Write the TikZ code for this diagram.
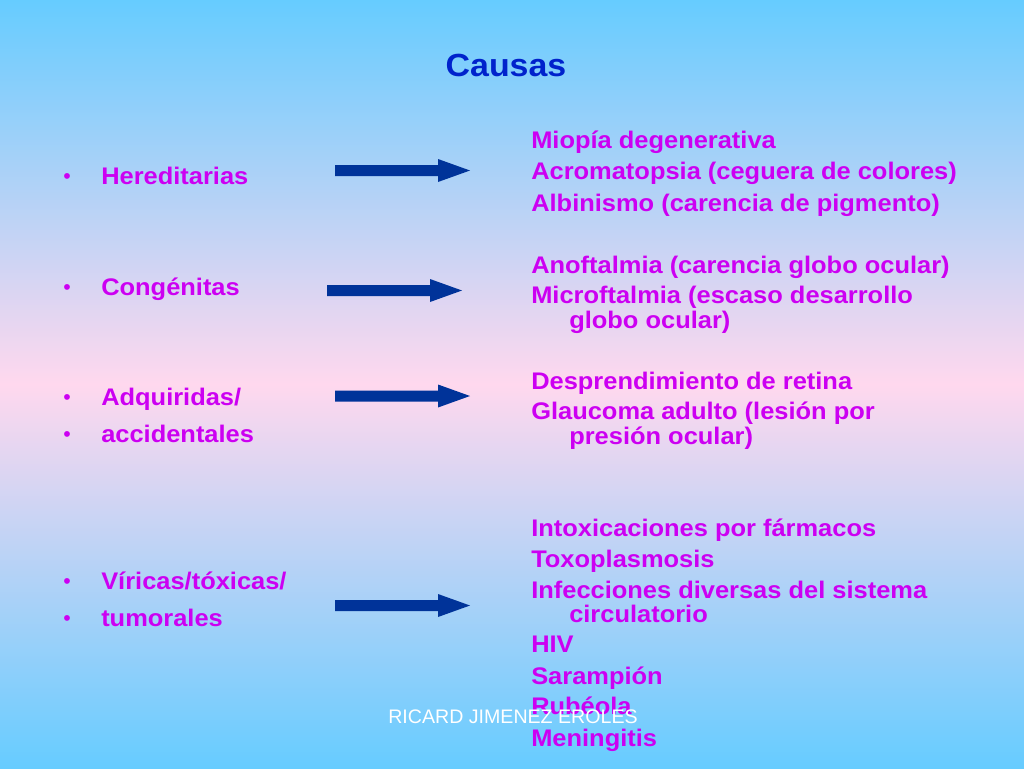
\documentclass[tikz,border=0pt]{standalone}
\usepackage{fontspec}
\setmainfont{Liberation Sans}
\newfontfamily\widebold[FakeStretch=1.06]{Liberation Sans Bold}
\definecolor{bgcyan}{HTML}{66CCFF}
\definecolor{bgpink}{HTML}{FFD8EE}
\definecolor{txtmag}{HTML}{CC00F2}
\definecolor{titblue}{HTML}{0022CC}
\definecolor{arrblue}{HTML}{003399}
\tikzset{
  item/.style={anchor=base west, inner sep=0pt, text=txtmag, font=\fontsize{18}{21}\selectfont\widebold},
  bul/.style={anchor=base west, inner sep=0pt, text=txtmag, font=\fontsize{16}{21}\selectfont},
  blockarrow/.style={fill=arrblue, draw=none},
}
\newcommand{\blockarr}[3]{% x start, y center, x tip
  \fill[blockarrow] (#1,#2-5.5) -- (#3-32,#2-5.5) -- (#3-32,#2-11.5) -- (#3,#2) -- (#3-32,#2+11.5) -- (#3-32,#2+5.5) -- (#1,#2+5.5) -- cycle;}
\begin{document}
\begin{tikzpicture}[x=0.75pt,y=-0.75pt]
\useasboundingbox (0,0) rectangle (1024,768);
\shade[top color=bgcyan, bottom color=bgpink] (0,0) rectangle (1024,384);
\shade[top color=bgpink, bottom color=bgcyan] (0,384) rectangle (1024,768);

\node[anchor=base, inner sep=0pt, text=titblue, font=\fontsize{24}{28}\selectfont\widebold] (title) at (506,76) {Causas};

% left column
\node[bul] (b1) at (63,183) {•};
\node[item] (l1) at (101,184) {Hereditarias};
\node[bul] (b2) at (63,294) {•};
\node[item] (l2) at (101,295) {Congénitas};
\node[bul] (b3) at (63,404) {•};
\node[item] (l3) at (101,405) {Adquiridas/};
\node[bul] (b4) at (63,441) {•};
\node[item] (l4) at (101,442) {accidentales};
\node[bul] (b5) at (63,588) {•};
\node[item] (l5) at (101,589) {Víricas/tóxicas/};
\node[bul] (b6) at (63,625) {•};
\node[item] (l6) at (101,626) {tumorales};

% arrows
\blockarr{335}{170.5}{470}
\blockarr{327}{290.5}{462}
\blockarr{335}{396}{470}
\blockarr{335}{605.5}{470}

% right column
\node[item] (r1) at (531,148) {Miopía degenerativa};
\node[item] (r2) at (531,179) {Acromatopsia (ceguera de colores)};
\node[item] (r3) at (531,211) {Albinismo (carencia de pigmento)};
\node[item] (r4) at (531,273) {Anoftalmia (carencia globo ocular)};
\node[item] (r5) at (531,303) {Microftalmia (escaso desarrollo};
\node[item] (r5b) at (569,328) {globo ocular)};
\node[item] (r6) at (531,389) {Desprendimiento de retina};
\node[item] (r7) at (531,419) {Glaucoma adulto (lesión por};
\node[item] (r7b) at (569,444) {presión ocular)};
\node[item] (r8) at (531,536) {Intoxicaciones por fármacos};
\node[item] (r9) at (531,567) {Toxoplasmosis};
\node[item] (r10) at (531,598) {Infecciones diversas del sistema};
\node[item] (r10b) at (569,622) {circulatorio};
\node[item] (r11) at (531,652) {HIV};
\node[item] (r12) at (531,684) {Sarampión};
\node[item] (r13) at (531,714) {Rubéola};
\node[item] (r14) at (531,746) {Meningitis};

% footer
\node[anchor=base, inner sep=0pt, text=white, font=\fontsize{14.7}{17}\selectfont] (foot) at (513,723) {RICARD JIMENEZ EROLES};
\end{tikzpicture}
\end{document}
